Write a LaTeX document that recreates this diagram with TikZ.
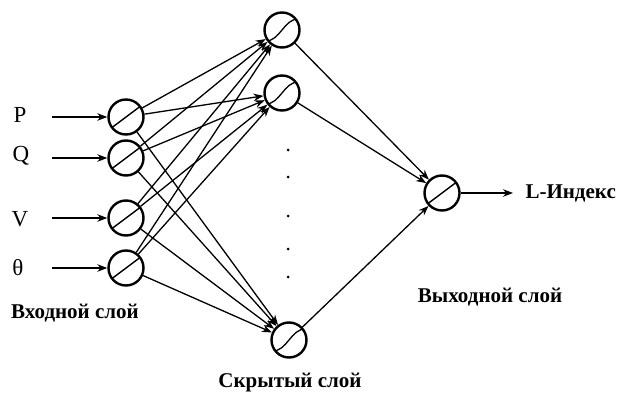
\documentclass[tikz,border=0pt]{standalone}
\usepackage{fontspec}
\setmainfont{Liberation Serif}
\usetikzlibrary{arrows.meta}
\begin{document}
\begin{tikzpicture}[x=1pt,y=-1pt,
  neuron/.style={circle,draw,line width=2.4pt,minimum size=35pt,inner sep=0pt},
  lin/.style={neuron,path picture={\draw[line width=1.4pt]
      ([shift={(-16,12)}]path picture bounding box.center) --
      ([shift={(16,-12)}]path picture bounding box.center);}},
  sig/.style={neuron,path picture={\draw[line width=1.3pt]
      ([shift={(-17,11)}]path picture bounding box.center) ..
      controls ([shift={(-2,12)}]path picture bounding box.center) and
               ([shift={(2,-12)}]path picture bounding box.center) ..
      ([shift={(17,-11)}]path picture bounding box.center);}},
  conn/.style={line width=1.3pt,-{Stealth[length=10pt,width=7.5pt]}},
  lab/.style={font=\fontsize{23}{26}\selectfont},
  captxt/.style={font=\fontsize{21}{24}\selectfont\bfseries},
  dot/.style={circle,fill,inner sep=0pt,minimum size=3pt}]
\useasboundingbox (0,0) rectangle (618,396);
% input layer
\node[lin] (i1) at (126,117) {};
\node[lin] (i2) at (126,158) {};
\node[lin] (i3) at (126,218) {};
\node[lin] (i4) at (126,268) {};
% hidden layer
\node[sig] (h1) at (282,30) {};
\node[sig] (h2) at (282,93) {};
\node[sig] (h3) at (289,340) {};
% output
\node[lin] (o) at (442,193) {};
% input labels
\node[lab] (lP) at (20,115) {P};
\node[lab] (lQ) at (21,156) {Q};
\node[lab] (lV) at (20,219) {V};
\node[lab] (lT) at (18,268) {θ};
\coordinate (a1) at (52,117);
\coordinate (a2) at (52,158);
\coordinate (a3) at (52,218);
\coordinate (a4) at (52,268);
\foreach \k in {1,2,3,4} {
  \draw[conn] (a\k) -- (i\k);
  \foreach \h in {1,2,3} \draw[conn] (i\k) -- (h\h);
}
\foreach \h in {1,2,3} \draw[conn] (h\h) -- (o);
\coordinate (oe) at (513,193);
\draw[conn] (o) -- (oe);
\node[captxt,anchor=west] (lL) at (522,193) {L-Индекс};
% dots
\foreach \y/\n in {150/1,177/2,216/3,249/4,277/5} \node[dot] (d\n) at (288,\y) {};
% captions
\node[captxt] (ci) at (75,313) {Входной слой};
\node[captxt] (ch) at (290,383) {Скрытый слой};
\node[captxt] (co) at (490,297) {Выходной слой};
\end{tikzpicture}
\end{document}
